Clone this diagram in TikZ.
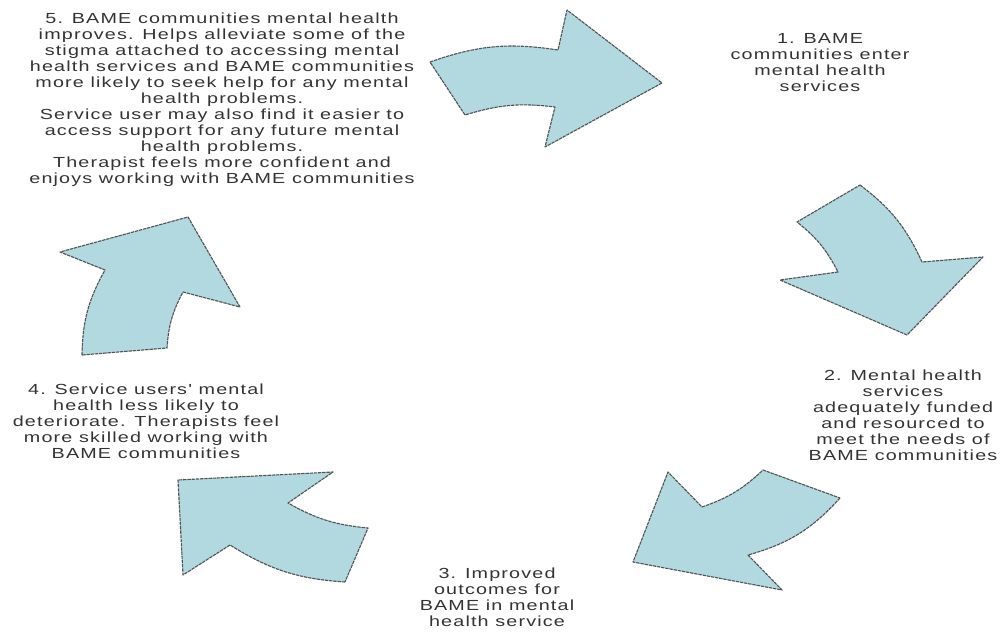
\documentclass[tikz,border=0pt]{standalone}
\usepackage{fontspec}
\newfontfamily\cyclefont[FakeStretch=1.35,LetterSpace=8]{Liberation Sans}
\usetikzlibrary{calc}
\definecolor{arrowblue}{RGB}{178,216,224}
\definecolor{edgegrey}{RGB}{80,85,85}
\tikzset{
  cyclearrow/.style={fill=arrowblue, draw=edgegrey, line width=0.8pt,
    dash pattern=on 2.4pt off 0.6pt, line join=round},
  steptext/.style={align=center, inner sep=0pt, text=black!80,
    font={\cyclefont\fontsize{10.4}{11.4}\selectfont}}
}

\begin{document}
\begin{tikzpicture}[x=0.025cm,y=0.025cm]
    \useasboundingbox (0,0) rectangle (1004,631);

    % arrows, clockwise from the top
    \draw[cyclearrow] (430,569) to[bend left=14] (558,581) -- (567,621) -- (662,548)
        -- (545,484) -- (555,524) to[bend right=12] (465,516) -- cycle;
    \draw[cyclearrow] (860,446) to[bend left=14] (922,369) -- (983,374) -- (907,296)
        -- (780,351) -- (838,359) to[bend right=12] (797,409) -- cycle;
    \draw[cyclearrow] (840,133) to[bend left=16] (748,76) -- (782,41) -- (633,69)
        -- (668,159) -- (702,124) to[bend right=12] (763,161) -- cycle;
    \draw[cyclearrow] (345,49) to[bend left=14] (230,86) -- (183,56) -- (178,151)
        -- (333,159) -- (288,128) to[bend right=12] (368,103) -- cycle;
    \draw[cyclearrow] (82,276) to[bend left=14] (105,361) -- (60,379) -- (188,414)
        -- (240,324) -- (183,339) to[bend right=12] (167,283) -- cycle;

    % texts
    \node[steptext] (enter) at (820,568) {1. BAME\\communities enter\\mental health\\services};
    \node[steptext] (funded) at (903,216) {2. Mental health\\services\\adequately funded\\and resourced to\\meet the needs of\\BAME communities};
    \node[steptext] (outcomes) at (497,34) {3. Improved\\outcomes for\\BAME in mental\\health service};
    \node[steptext] (users) at (146,210) {4. Service users' mental\\health less likely to\\deteriorate. Therapists feel\\more skilled working with\\BAME communities};
    \node[steptext] (improves) at (222,531) {5. BAME communities mental health\\improves. Helps alleviate some of the\\stigma attached to accessing mental\\health services and BAME communities\\more likely to seek help for any mental\\health problems.\\Service user may also find it easier to\\access support for any future mental\\health problems.\\Therapist feels more confident and\\enjoys working with BAME communities};
\end{tikzpicture}
\end{document}
